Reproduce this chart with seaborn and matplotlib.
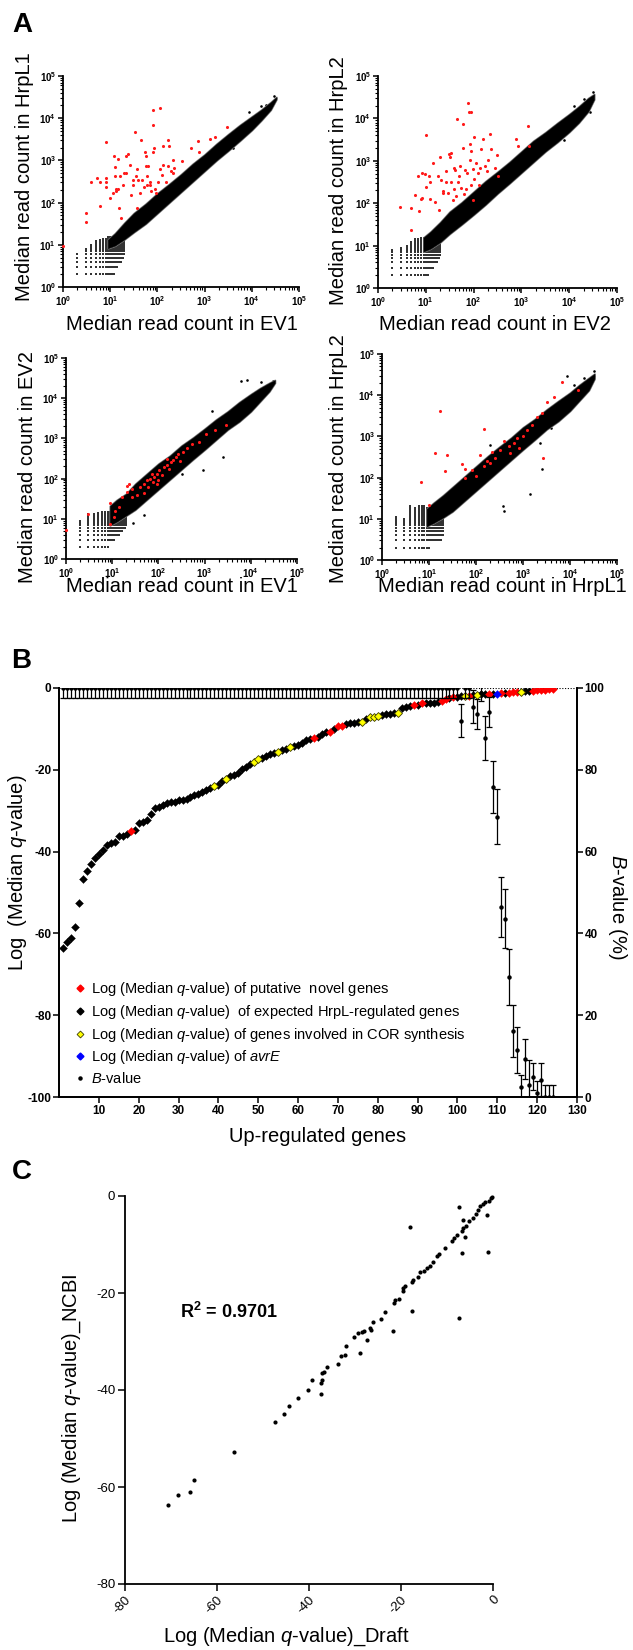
"""
Three-panel figure: read-count scatter plots (A), ranked q-values with B-values (B),
and the NCBI vs draft q-value comparison (C).
"""

import numpy as np
import matplotlib
matplotlib.use("Agg")
import matplotlib.pyplot as plt
import matplotlib.ticker as mticker
from matplotlib.lines import Line2D
import seaborn as sns

sns.set_style("ticks")
plt.rcParams["font.family"] = ["Liberation Sans", "DejaVu Sans"]
plt.rcParams["mathtext.fontset"] = "custom"
plt.rcParams["mathtext.rm"] = "Liberation Sans"
plt.rcParams["mathtext.it"] = "Liberation Sans:italic"
plt.rcParams["mathtext.bf"] = "Liberation Sans:bold"
plt.rcParams["axes.edgecolor"] = "black"
plt.rcParams["xtick.color"] = "black"
plt.rcParams["ytick.color"] = "black"
plt.rcParams["text.color"] = "black"

# ── Panel A data (log10 read counts) ─────────────────────────────────────────
env_x = [0.95, 1.1, 1.3, 1.5, 1.75, 2.0, 2.25, 2.5, 2.75, 3.0, 3.25, 3.5, 3.75, 4.0, 4.2, 4.4, 4.52]

tl_lo = [0.92, 0.98, 1.13, 1.3, 1.5, 1.75, 2.0, 2.25, 2.5, 2.75, 3.0, 3.23, 3.47, 3.72, 3.95, 4.2, 4.45]
tl_hi = [1.12, 1.27, 1.52, 1.75, 1.97, 2.22, 2.44, 2.67, 2.92, 3.14, 3.39, 3.62, 3.84, 4.04, 4.2, 4.38, 4.5]
tr_lo = [0.86, 0.93, 1.08, 1.28, 1.5, 1.73, 1.97, 2.23, 2.47, 2.72, 2.97, 3.22, 3.44, 3.68, 3.9, 4.17, 4.45]
tr_hi = [1.19, 1.33, 1.55, 1.8, 2.02, 2.27, 2.52, 2.74, 2.97, 3.22, 3.47, 3.67, 3.89, 4.1, 4.28, 4.48, 4.57]
bl_lo = [0.84, 0.93, 1.08, 1.23, 1.48, 1.73, 1.98, 2.23, 2.48, 2.72, 2.97, 3.22, 3.42, 3.67, 3.92, 4.17, 4.38]
bl_hi = [1.32, 1.47, 1.62, 1.87, 2.12, 2.37, 2.57, 2.82, 3.02, 3.24, 3.47, 3.67, 3.9, 4.1, 4.25, 4.38, 4.45]
br_lo = [0.82, 0.9, 1.03, 1.18, 1.43, 1.68, 1.93, 2.18, 2.43, 2.68, 2.92, 3.17, 3.37, 3.62, 3.87, 4.12, 4.4]
br_hi = [1.24, 1.39, 1.57, 1.77, 2.02, 2.27, 2.52, 2.75, 2.97, 3.22, 3.42, 3.65, 3.86, 4.06, 4.25, 4.42, 4.52]

# low-count lattice: column x value, lowest and highest integer y
lat_x = [2, 3, 4, 5, 6, 7, 8, 9, 10, 11, 12, 13, 14, 15, 16, 17, 18, 19, 20]
tl_lat_lo = [2, 2, 2, 2, 2, 2, 2, 2, 2, 2, 2, 3, 3, 4, 4, 4, 5, 5, 6]
tl_lat_hi = [6, 8, 10, 12, 13, 14, 14, 15, 15, 15, 15, 15, 15, 15, 15, 15, 15, 15, 15]
tr_lat_lo = [2, 2, 2, 2, 2, 2, 2, 2, 2, 2, 3, 3, 3, 4, 4, 4, 5, 5, 6]
tr_lat_hi = [8, 9, 10, 12, 14, 14, 15, 15, 15, 15, 15, 15, 15, 15, 15, 15, 15, 15, 15]
bl_lat_lo = [2, 2, 2, 2, 2, 2, 2, 3, 3, 3, 4, 4, 4, 5, 5, 6, 6, 6, 7]
bl_lat_hi = [9, 13, 13, 14, 15, 15, 15, 15, 15, 15, 15, 15, 15, 15, 15, 15, 15, 15, 15]
br_lat_lo = [2, 2, 2, 2, 2, 2, 2, 2, 2, 3, 3, 3, 3, 3, 3, 3, 3, 4, 4]
br_lat_hi = [11, 10, 20, 18, 20, 20, 20, 18, 18, 18, 18, 18, 18, 18, 18, 18, 18, 18, 18]

tl_black = [(4.31, 4.32), (4.46, 4.52), (3.89, 3.81), (4.2, 4.3), (3.6, 3.3), (3.95, 4.15)]
tl_red = [(0.0, 0.98), (0.48, 1.53), (0.48, 1.75), (0.60, 2.50), (0.71, 2.58), (0.79, 2.50),
          (0.91, 2.38), (0.91, 2.48), (0.91, 2.58), (0.79, 1.93), (0.91, 3.43), (0.99, 2.11),
          (1.05, 2.23), (1.07, 3.11), (1.10, 2.84), (1.10, 2.64), (1.12, 2.32), (1.13, 2.28),
          (1.17, 2.32), (1.17, 3.03), (1.20, 2.64), (1.19, 1.87), (1.22, 1.64), (1.27, 2.42),
          (1.29, 2.70), (1.33, 2.70), (1.34, 3.11), (1.38, 3.16), (1.41, 2.90), (1.45, 2.19),
          (1.49, 2.42), (1.49, 2.54), (1.54, 2.62), (1.52, 3.67), (1.56, 2.80), (1.56, 1.87),
          (1.59, 2.54), (1.63, 2.23), (1.66, 3.49), (1.68, 2.54), (1.71, 2.38), (1.73, 3.19),
          (1.75, 3.11), (1.75, 2.86), (1.77, 2.62), (1.78, 2.42), (1.80, 2.87), (1.84, 2.42),
          (1.85, 2.50), (1.87, 2.27), (1.91, 3.19), (1.91, 3.85), (1.93, 3.29), (1.94, 2.32),
          (1.98, 2.23), (2.02, 2.50), (2.05, 2.80), (2.09, 2.66), (2.11, 3.33), (2.12, 2.90),
          (1.90, 4.19), (2.05, 4.24), (2.19, 2.48), (2.23, 3.48), (2.25, 3.33), (2.23, 2.86),
          (2.28, 2.74), (2.32, 2.70), (2.33, 3.02), (2.35, 2.82), (2.53, 2.98), (2.72, 3.29),
          (2.86, 3.45), (2.89, 3.21), (3.11, 3.51), (3.22, 3.55), (3.47, 3.79)]

tr_black = [(4.43, 4.14), (4.5, 4.62), (4.3, 4.45), (3.9, 3.5), (4.1, 4.3)]
tr_red = [(0.47, 1.92), (0.68, 1.88), (0.68, 1.36), (0.77, 2.20), (0.86, 1.81), (0.84, 2.63),
          (0.89, 2.10), (0.93, 2.71), (0.98, 2.69), (0.93, 2.12), (1.00, 3.61), (1.01, 2.39),
          (1.07, 2.63), (1.08, 2.51), (1.08, 2.10), (1.16, 2.94), (1.19, 2.04), (1.26, 2.63),
          (1.28, 1.83), (1.29, 3.10), (1.32, 2.55), (1.35, 2.28), (1.36, 2.25), (1.42, 2.75),
          (1.43, 2.51), (1.46, 2.24), (1.49, 3.16), (1.50, 3.10), (1.53, 3.18), (1.53, 2.51),
          (1.56, 2.08), (1.58, 2.83), (1.60, 2.33), (1.62, 2.79), (1.64, 2.16), (1.66, 3.98),
          (1.67, 2.51), (1.69, 2.65), (1.71, 2.87), (1.74, 2.35), (1.78, 3.86), (1.78, 3.30),
          (1.79, 2.22), (1.81, 2.79), (1.85, 2.33), (1.86, 2.71), (1.88, 4.36), (1.90, 4.14),
          (1.92, 3.40), (1.93, 3.02), (1.95, 3.22), (1.95, 4.14), (1.95, 2.43), (1.99, 2.80),
          (1.99, 2.08), (2.00, 3.57), (2.00, 2.57), (2.06, 2.94), (2.09, 2.71), (2.11, 2.43),
          (2.13, 2.83), (2.16, 3.27), (2.20, 3.51), (2.23, 2.87), (2.27, 2.75), (2.30, 3.02),
          (2.34, 3.63), (2.37, 3.27), (2.44, 2.83), (2.49, 3.14), (2.51, 2.63), (2.88, 3.51),
          (2.93, 3.34), (3.14, 3.81), (3.16, 3.35)]

bl_black = [(3.78, 4.43), (3.92, 4.46), (4.23, 4.40), (4.34, 4.32), (3.40, 2.54), (2.96, 2.21),
            (3.17, 3.68), (1.46, 0.90), (1.68, 1.09), (2.50, 2.12), (4.48, 4.44), (4.45, 4.35)]
bl_red = [(0.0, 0.71), (0.47, 1.11), (0.96, 1.39), (1.03, 1.04), (1.14, 1.29), (1.21, 1.54),
          (1.32, 1.67), (1.37, 1.87), (1.42, 1.54), (1.53, 1.58), (1.60, 1.79), (1.68, 1.87),
          (1.75, 1.96), (1.82, 2.00), (1.88, 1.92), (1.91, 2.04), (1.96, 2.12), (2.02, 2.21),
          (2.07, 2.08), (2.12, 2.29), (2.18, 2.35), (2.22, 2.25), (2.27, 2.41), (2.32, 2.47),
          (2.38, 2.54), (2.43, 2.60), (2.53, 2.66), (2.61, 2.77), (2.72, 2.87), (2.88, 2.91),
          (3.03, 3.12), (3.22, 3.22), (3.47, 3.33), (1.42, 1.75), (1.78, 1.79), (1.99, 1.96),
          (1.86, 2.12), (2.18, 2.49), (2.47, 2.45), (0.96, 0.88), (1.06, 1.19), (1.96, 1.87),
          (1.68, 1.64), (1.33, 1.81)]

br_black = [(3.14, 1.60), (2.59, 1.20), (2.57, 1.30), (3.40, 2.20), (3.37, 2.84), (4.50, 4.46),
            (4.29, 4.42), (4.50, 4.58), (4.08, 4.25), (3.94, 4.46), (3.6, 3.2), (2.3, 2.8)]
br_red = [(1.23, 3.61), (1.13, 2.59), (1.38, 2.55), (1.35, 2.17), (0.83, 1.90), (2.16, 3.18),
          (1.70, 2.33), (1.91, 2.19), (1.77, 2.00), (1.99, 2.03), (2.16, 2.27), (2.30, 2.35),
          (2.41, 2.47), (2.52, 2.67), (2.59, 2.88), (2.70, 2.76), (2.80, 2.84), (2.87, 2.96),
          (3.01, 3.00), (3.09, 3.16), (3.19, 3.28), (3.30, 3.48), (3.40, 3.57), (3.50, 3.83),
          (3.65, 3.95), (3.83, 4.31), (4.18, 4.12), (3.43, 2.47), (2.34, 2.63), (2.09, 2.55),
          (2.73, 2.59), (2.91, 2.71), (0.99, 1.34), (1.77, 2.20), (2.23, 2.41)]

# ── Panel B data ─────────────────────────────────────────────────────────────
log_q = [-63.6, -62.0, -61.2, -58.4, -52.6, -46.7, -44.8, -43.0, -41.6, -40.7,
         -39.7, -38.4, -38.0, -37.6, -36.3, -36.1, -35.7, -35.0, -34.6, -32.9,
         -32.7, -32.3, -30.9, -29.4, -29.0, -28.6, -28.0, -27.9, -27.8, -27.5,
         -27.4, -27.2, -26.7, -26.2, -25.8, -25.4, -25.0, -24.5, -24.0, -23.8,
         -22.8, -22.2, -21.5, -21.3, -20.9, -19.8, -19.2, -18.6, -18.0, -17.4,
         -17.0, -16.6, -16.2, -15.8, -15.6, -15.2, -14.8, -14.5, -14.2, -14.0,
         -13.5, -12.7, -12.5, -12.3, -11.9, -11.2, -10.8, -10.8, -10.0, -9.3,
         -9.2, -8.9, -8.6, -8.5, -8.4, -8.4, -7.7, -7.2, -7.0, -6.9,
         -6.6, -6.4, -6.3, -6.2, -6.0, -5.0, -4.6, -4.4, -4.2, -4.2,
         -3.7, -3.7, -3.6, -3.6, -3.4, -3.1, -2.8, -2.5, -2.3, -2.1,
         -2.0, -2.0, -2.0, -1.8, -1.7, -1.5, -1.5, -1.5, -1.5, -1.5,
         -1.3, -1.2, -1.2, -1.1, -1.0, -0.9, -0.8, -0.7, -0.7, -0.5,
         -0.45, -0.4, -0.3, -0.2]
novel_genes = [18, 64, 68, 70, 71, 89, 91, 96, 97, 99, 103, 108, 111, 113, 114, 115,
               119, 120, 121, 122, 123, 124]
cor_genes = [39, 42, 49, 50, 55, 58, 76, 78, 79, 80, 85, 102, 105, 116]
avre_genes = [110]

b_value = [100.0] * 100 + [92, 100, 100, 95.4, 93.7, 98.7, 87.8, 94.1, 75.8, 68.5,
                           46.5, 43.6, 29.3, 16.2, 11.5, 2.5, 9.3, 3, 4.9, 1,
                           4.2, 0, 0, 0]
b_err = [2.5] * 100 + [4, 2.5, 2.5, 4, 3.7, 2, 5.4, 3.7, 6.4, 6.7,
                       7.3, 7.2, 6.8, 6.3, 5.6, 3, 5, 6, 3.3, 3,
                       4, 3, 3, 3]

# ── Panel C data ─────────────────────────────────────────────────────────────
q_draft = [-70.6, -68.4, -65.8, -65.1, -56.2, -47.4, -45.5, -44.3, -42.4, -40.2,
           -39.3, -37.5, -37.4, -37.2, -37.2, -36.7, -36.1, -33.7, -33.0, -32.1,
           -31.9, -30.2, -29.3, -29.0, -28.4, -28.0, -27.3, -26.8, -26.5, -26.0,
           -24.4, -23.4, -21.7, -21.6, -21.2, -20.5, -19.5, -19.5, -19.2, -17.7,
           -17.7, -17.3, -16.3, -15.9, -15.1, -14.3, -13.7, -13.1, -12.2, -11.8,
           -10.5, -9.0, -8.5, -7.9, -7.3, -7.3, -6.7, -6.7, -6.6, -6.6,
           -6.1, -5.9, -5.2, -4.4, -3.8, -3.2, -2.9, -2.2, -1.7, -1.2,
           -1.1, -0.9, -0.4, -0.2, -18.0]
q_ncbi = [-63.7, -61.7, -61.1, -58.5, -52.7, -46.7, -45.0, -43.4, -41.7, -40.0,
          -37.9, -40.9, -38.5, -38.0, -36.5, -36.2, -35.3, -34.7, -32.9, -32.7,
          -30.9, -29.0, -28.2, -32.3, -28.1, -27.9, -29.6, -27.3, -27.7, -26.0,
          -25.4, -23.9, -27.9, -22.1, -21.5, -21.3, -19.5, -18.9, -18.5, -23.8,
          -17.8, -17.3, -16.7, -15.7, -15.4, -14.8, -14.4, -13.7, -12.4, -12.0,
          -10.7, -9.2, -8.7, -8.1, -2.2, -25.1, -7.3, -11.8, -6.7, -4.9,
          -8.4, -6.2, -5.1, -4.5, -3.7, -2.8, -2.1, -1.7, -1.3, -4.0,
          -11.6, -1.0, -0.4, -0.2, -6.3]

# ── Layout helpers (pixel coordinates of the 633 x 1650 canvas) ──────────────
W, H = 633, 1650
fig = plt.figure(figsize=(W / 100, H / 100), dpi=100)


def add_ax(l, t, r, b):
    return fig.add_axes([l / W, 1 - b / H, (r - l) / W, (b - t) / H])


def ftext(x, y, s, **kw):
    fig.text(x / W, 1 - y / H, s, **kw)


log_fmt = mticker.FuncFormatter(lambda v, p: r"$\mathbf{10^{%d}}$" % round(np.log10(v)))


def read_panel(ax, lo, hi, lat_lo, lat_hi, black_pts, red_pts):
    ex = 10 ** np.array(env_x)
    # speckled fringe of the dense cloud, then the solid core
    ax.fill_between(ex, 10 ** np.array(lo), 10 ** np.array(hi),
                    facecolor="black", edgecolor="#777777", lw=1.4, zorder=2)
    ax.fill_between(ex, 10 ** np.array(lo), 10 ** np.array(hi),
                    facecolor="black", edgecolor="black", lw=0.3, zorder=2)
    lx, ly = [], []
    for x, a, b in zip(lat_x, lat_lo, lat_hi):
        for y in range(a, b + 1):
            lx.append(x)
            ly.append(y)
    sns.scatterplot(x=lx, y=ly, s=1.6, marker="s", color="#333333", linewidth=0, ax=ax)
    bx, by = zip(*black_pts)
    sns.scatterplot(x=10 ** np.array(bx), y=10 ** np.array(by), s=3.5, color="black",
                    linewidth=0, ax=ax)
    rx, ry = zip(*red_pts)
    sns.scatterplot(x=10 ** np.array(rx), y=10 ** np.array(ry), s=5, color="#ff1a1a",
                    linewidth=0, ax=ax, zorder=4, clip_on=False)
    ax.set_xscale("log")
    ax.set_yscale("log")
    ax.set_xlim(1, 1e5)
    ax.set_ylim(1, 1e5)
    for axis in (ax.xaxis, ax.yaxis):
        axis.set_major_locator(mticker.LogLocator(base=10, numticks=10))
        axis.set_minor_locator(mticker.LogLocator(base=10, subs=np.arange(2, 10), numticks=20))
        axis.set_major_formatter(log_fmt)
        axis.set_minor_formatter(mticker.NullFormatter())
    ax.tick_params(which="major", length=3.5, width=1.1, labelsize=7, pad=1.5)
    ax.tick_params(which="minor", length=2, width=0.8)
    ax.spines[["top", "right"]].set_visible(False)
    ax.spines[["left", "bottom"]].set_linewidth(1.3)
    ax.set_xlabel("")
    ax.set_ylabel("")


# ── Panel A ──────────────────────────────────────────────────────────────────
ax_tl = add_ax(63, 76, 299, 287)
read_panel(ax_tl, tl_lo, tl_hi, tl_lat_lo, tl_lat_hi, tl_black, tl_red)
ax_tr = add_ax(378, 76, 617, 288)
read_panel(ax_tr, tr_lo, tr_hi, tr_lat_lo, tr_lat_hi, tr_black, tr_red)
ax_bl = add_ax(66, 358, 297, 559)
read_panel(ax_bl, bl_lo, bl_hi, bl_lat_lo, bl_lat_hi, bl_black, bl_red)
ax_br = add_ax(382, 354, 617, 560)
read_panel(ax_br, br_lo, br_hi, br_lat_lo, br_lat_hi, br_black, br_red)

lab = dict(fontsize=14.5, ha="center", va="center")
ftext(182, 325, "Median read count in EV1", **lab)
ftext(495, 325, "Median read count in EV2", **lab)
ftext(182, 587, "Median read count in EV1", **lab)
ftext(502, 587, "Median read count in HrpL1", **lab)
ftext(25, 177, "Median read count in HrpL1", rotation=90, **lab)
ftext(338, 181, "Median read count in HrpL2", rotation=90, **lab)
ftext(28, 467, "Median read count in EV2", rotation=90, **lab)
ftext(338, 459, "Median read count in HrpL2", rotation=90, **lab)

# ── Panel B ──────────────────────────────────────────────────────────────────
axB = add_ax(59, 688, 577, 1097)
genes = np.arange(1, len(log_q) + 1)
q = np.array(log_q)
is_novel = np.isin(genes, novel_genes)
is_cor = np.isin(genes, cor_genes)
is_avre = np.isin(genes, avre_genes)
is_exp = ~(is_novel | is_cor | is_avre)

sns.scatterplot(x=genes[is_exp], y=q[is_exp], marker="D", s=16, color="black",
                edgecolor="black", linewidth=0.3, ax=axB, zorder=3)
sns.scatterplot(x=genes[is_novel], y=q[is_novel], marker="D", s=16, color="#ff0000",
                edgecolor="#ff0000", linewidth=0.3, ax=axB, zorder=3)
sns.scatterplot(x=genes[is_cor], y=q[is_cor], marker="D", s=16, color="#ffff00",
                edgecolor="#3a3a00", linewidth=0.6, ax=axB, zorder=3)
sns.scatterplot(x=genes[is_avre], y=q[is_avre], marker="D", s=16, color="#0000ff",
                edgecolor="#0000ff", linewidth=0.3, ax=axB, zorder=3)
axB.axhline(0, color="black", lw=0.8, ls=(0, (1, 1.5)), zorder=1)
axB.set_xlim(0, 130)
axB.set_ylim(-100, 0)
axB.set_xticks(range(10, 131, 10), labels=[str(v) for v in range(10, 131, 10)],
               fontweight="bold", fontsize=8.5)
axB.set_yticks(range(-100, 1, 20), labels=[str(v) for v in range(-100, 1, 20)],
               fontweight="bold", fontsize=8.5)
axB.tick_params(length=4, width=1.1, pad=1.5)
axB.spines["top"].set_visible(False)
axB.spines[["left", "bottom", "right"]].set_linewidth(1.3)
axB.set_xlabel("")
axB.set_ylabel("")

axB2 = axB.twinx()
axB2.errorbar(genes, b_value, yerr=b_err, fmt="o", ms=2.2, color="black", ecolor="black",
              elinewidth=0.9, capsize=2, capthick=0.9, zorder=2)
axB2.set_ylim(0, 100)
axB2.set_yticks(range(0, 101, 20), labels=[str(v) for v in range(0, 101, 20)],
                fontweight="bold", fontsize=8.5)
axB2.tick_params(length=4, width=1.1, pad=1.5)
axB2.spines["top"].set_visible(False)
axB2.spines[["left", "bottom", "right"]].set_linewidth(1.3)

handles = [
    Line2D([], [], ls="", marker="D", ms=3.5, color="#ff0000"),
    Line2D([], [], ls="", marker="D", ms=3.5, color="black"),
    Line2D([], [], ls="", marker="D", ms=3.5, color="#ffff00", markeredgecolor="#3a3a00",
           markeredgewidth=0.6),
    Line2D([], [], ls="", marker="D", ms=3.5, color="#0000ff"),
    Line2D([], [], ls="", marker="o", ms=2.2, color="black"),
]
labels = [
    "Log (Median $q$-value) of putative  novel genes",
    "Log (Median $q$-value)  of expected HrpL-regulated genes",
    "Log (Median $q$-value) of genes involved in COR synthesis",
    "Log (Median $q$-value) of $avrE$",
    "$B$-value",
]
axB2.legend(handles, labels, loc="upper left", bbox_to_anchor=(0.03, 0.285), frameon=False,
            fontsize=10.5, handletextpad=0.35, handlelength=0.8, labelspacing=0.32,
            borderaxespad=0, borderpad=0)

ftext(318, 1136, "Up-regulated genes", fontsize=14.5, ha="center", va="center")
ftext(18, 873, "Log  (Median $q$-value)", fontsize=14.5, rotation=90, ha="center", va="center")
ftext(618, 907, "$B$-value (%)", fontsize=14.5, rotation=270, ha="center", va="center")

# ── Panel C ──────────────────────────────────────────────────────────────────
axC = add_ax(125, 1196, 493, 1584)
sns.scatterplot(x=q_draft, y=q_ncbi, s=9, color="black", linewidth=0, ax=axC, clip_on=False)
axC.set_xlim(-80, 0)
axC.set_ylim(-80, 0)
ticksC = [-80, -60, -40, -20, 0]
axC.set_xticks(ticksC, labels=[str(v) for v in ticksC], fontsize=9.5, rotation=45,
               ha="right", rotation_mode="anchor")
axC.set_yticks(ticksC, labels=[str(v) for v in ticksC], fontsize=9.5)
axC.tick_params(length=5, width=1.1, pad=2)
axC.spines[["top", "right"]].set_visible(False)
axC.spines[["left", "bottom"]].set_linewidth(1.3)
axC.set_xlabel("")
axC.set_ylabel("")
axC.text(-68, -24, r"R$^{\mathbf{2}}$ = 0.9701", fontsize=13, fontweight="bold",
         ha="left", va="center")

ftext(286, 1637, "Log (Median $q$-value)_Draft", fontsize=14.5, ha="center", va="center")
ftext(72, 1398, "Log (Median $q$-value)_NCBI", fontsize=14.5, rotation=90,
      ha="center", va="center")

# ── Panel letters ────────────────────────────────────────────────────────────
for letter, (lx_, ly_) in {"A": (22, 25), "B": (21, 661), "C": (22, 1172)}.items():
    ftext(lx_, ly_, letter, fontsize=20, fontweight="bold", ha="center", va="center")

fig.savefig("out.png", dpi=100)
plt.close(fig)
